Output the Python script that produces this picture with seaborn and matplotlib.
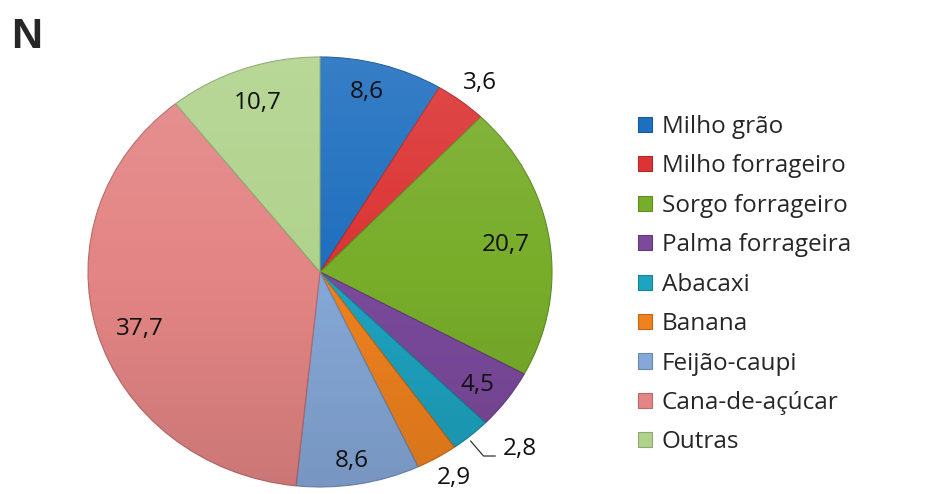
import matplotlib
matplotlib.use("Agg")
import matplotlib.pyplot as plt
from matplotlib.patches import Circle
import numpy as np
import seaborn as sns

categorias = ["Milho grão", "Milho forrageiro", "Sorgo forrageiro", "Palma forrageira",
              "Abacaxi", "Banana", "Feijão-caupi", "Cana-de-açúcar", "Outras"]
valores = [8.6, 3.6, 20.7, 4.5, 2.8, 2.9, 8.6, 37.7, 10.7]
rotulos = ["8,6", "3,6", "20,7", "4,5", "2,8", "2,9", "8,6", "37,7", "10,7"]
cores = ["#1f6fbf", "#dc3434", "#78ad2a", "#7b4a9c", "#1ea3c0", "#f0821e",
         "#86a8d8", "#e48585", "#b0d38c"]

# label placement: (radial distance, angular shift in degrees)
pos_rotulos = [(0.86, 1.9), (1.12, -0.7), (0.81, 0.0), (0.86, -1.3), (1.19, 5.9),
               (1.12, 0.8), (0.89, -0.8), (0.82, 2.5), (0.83, -0.5)]

sns.set_theme(style="white")
plt.rcParams["font.family"] = ["Open Sans", "DejaVu Sans"]

fig = plt.figure(figsize=(9.41, 4.94), dpi=100)
ax = fig.add_axes([88 / 941, 7 / 494, 464 / 941, 430 / 494])

def escurecer(c, f=0.8):
    r, g, b = matplotlib.colors.to_rgb(c)
    return (r * f, g * f, b * f)

wedges, _ = ax.pie(valores, colors=cores, startangle=90, counterclock=False,
                   radius=1.0, frame=False,
                   wedgeprops=dict(linewidth=0.8))
for w, c in zip(wedges, cores):
    w.set_edgecolor(escurecer(c, 0.8))

ax.set_aspect("auto")
ax.set_xlim(-1, 1)
ax.set_ylim(-1, 1)
ax.axis("off")

# soft vertical shading over the pie: lighter at the top, darker at the bottom
grad = np.linspace(0, 1, 256)[:, None]
sombra = np.zeros((256, 2, 4))
sombra[..., :3] = np.where(grad[..., None] < 0.5, 1.0, 0.0)
sombra[..., 3] = np.abs(grad - 0.5) * 0.22
img = ax.imshow(sombra, extent=(-1, 1, -1, 1), origin="upper",
                aspect="auto", zorder=3, interpolation="bilinear")
img.set_clip_path(Circle((0, 0), 1.0, transform=ax.transData))

for w, txt, (rr, sh) in zip(wedges, rotulos, pos_rotulos):
    ang = np.deg2rad((w.theta1 + w.theta2) / 2 + sh)
    x, y = rr * np.cos(ang), rr * np.sin(ang)
    ax.text(x, y, txt, ha="center", va="center", fontsize=17.5, color="#111111",
            clip_on=False, zorder=5)

# leader line for the small "2,8" slice
w = wedges[4]
ang = np.deg2rad((w.theta1 + w.theta2) / 2)
x0, y0 = 1.0 * np.cos(ang), 1.0 * np.sin(ang)
ax.plot([x0, x0 + 0.056, x0 + 0.107], [y0 - 0.025, y0 - 0.095, y0 - 0.095],
        color="#333333", lw=0.9, clip_on=False, zorder=5)

leg = fig.legend(wedges, categorias, loc="upper left",
                 bbox_to_anchor=(638 / 941, 1 - 115 / 494),
                 frameon=False, fontsize=17.5, handlelength=0.58, handleheight=0.58,
                 handletextpad=0.4, labelspacing=0.635, borderaxespad=0,
                 borderpad=0)

fig.text(11 / 941, 1 - 37 / 494, "N", fontsize=31, fontweight="bold",
         family="Liberation Sans", va="center", ha="left")

fig.savefig("out.png", dpi=100, facecolor="white")
